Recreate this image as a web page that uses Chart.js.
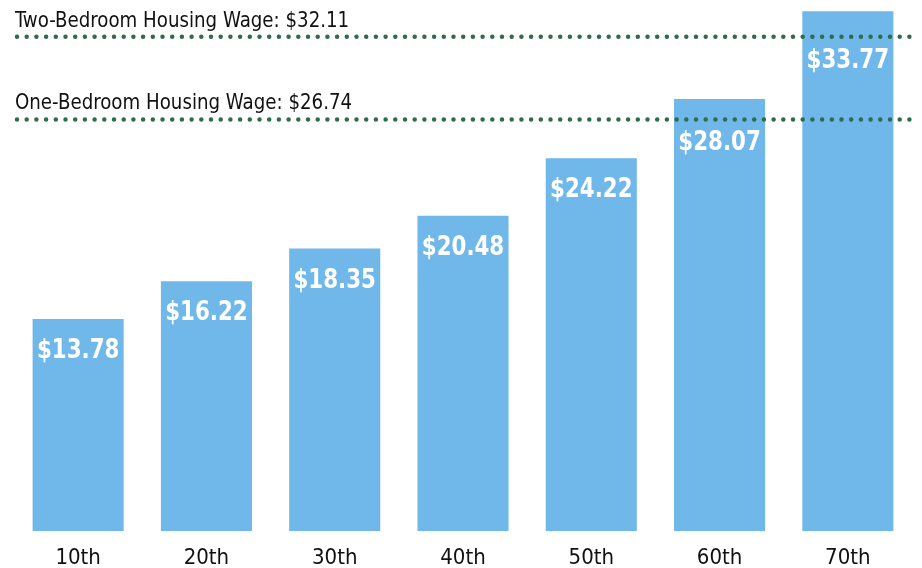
<!DOCTYPE html>
<html>
<head>
<meta charset="utf-8">
<script src="https://cdn.jsdelivr.net/npm/chart.js@4"></script>
<style>
  html,body{margin:0;padding:0;background:#fff;}
  #wrap{width:922px;height:568px;}
</style>
</head>
<body>
<div id="wrap"><canvas id="chart" width="922" height="568"></canvas></div>
<script>
// --- Data ---
const percentiles = ["10th","20th","30th","40th","50th","60th","70th"];
const wages = [13.78,16.22,18.35,20.48,24.22,28.07,33.77];
const refLabels = ["Two-Bedroom Housing Wage: $32.11","One-Bedroom Housing Wage: $26.74"];
const refValues = [32.11,26.74];

const FONT = '"DejaVu Sans Condensed","Liberation Sans Narrow","DejaVu Sans",sans-serif';
const BAR = '#70b7ea', GREEN = '#2f6b4d';

// squeezed text, the original uses a narrower face
function narrowText(ctx, t, x, y, sx){
  ctx.save(); ctx.translate(x, y); ctx.scale(sx, 1); ctx.fillText(t, 0, 0); ctx.restore();
}

// --- Reference lines + value labels ---
const overlay = {
  id:'overlay',
  afterDatasetsDraw(chart){
    const ctx = chart.ctx, y = chart.scales.y;
    const lineYs = refValues.map(v=>y.getPixelForValue(v));
    ctx.save();
    // dotted lines
    ctx.strokeStyle = GREEN; ctx.lineWidth = 4.5; ctx.lineCap = 'round';
    ctx.setLineDash([0,9.7]);
    lineYs.forEach(ly=>{
      ctx.beginPath(); ctx.moveTo(17, ly); ctx.lineTo(912, ly); ctx.stroke();
    });
    ctx.setLineDash([]);
    // line labels
    ctx.fillStyle = '#111'; ctx.font = '22px '+FONT; ctx.textAlign = 'left'; ctx.textBaseline = 'alphabetic';
    refLabels.forEach((t,i)=>narrowText(ctx, t, 15, lineYs[i]-10, 0.92));
    // value labels inside bars
    ctx.fillStyle = '#fff'; ctx.font = 'bold 27px '+FONT; ctx.textAlign = 'center'; ctx.textBaseline = 'middle';
    chart.getDatasetMeta(0).data.forEach((bar,i)=>{
      let ty = bar.y + 32;
      lineYs.forEach(ly=>{ if(Math.abs(ty-ly)<23) ty = ly + 24; });
      narrowText(ctx, '$'+wages[i].toFixed(2), bar.x, ty, 0.88);
    });
    ctx.restore();
  }
};

new Chart(document.getElementById('chart'),{
  type:'bar',
  data:{labels:percentiles, datasets:[{data:wages, backgroundColor:BAR, borderWidth:0, categoryPercentage:1, barPercentage:0.71}]},
  options:{
    responsive:false, animation:false,
    layout:{padding:{left:14,right:10,top:0,bottom:0}},
    plugins:{legend:{display:false}, tooltip:{enabled:false}},
    scales:{
      x:{grid:{display:false,drawTicks:false}, border:{display:false},
         ticks:{color:'#111', font:{family:FONT,size:22}, padding:14},
         afterFit(s){ s.height = 37; }},
      y:{display:false, min:0, max:34.5}
    }
  },
  plugins:[overlay]
});
</script>
</body>
</html>
